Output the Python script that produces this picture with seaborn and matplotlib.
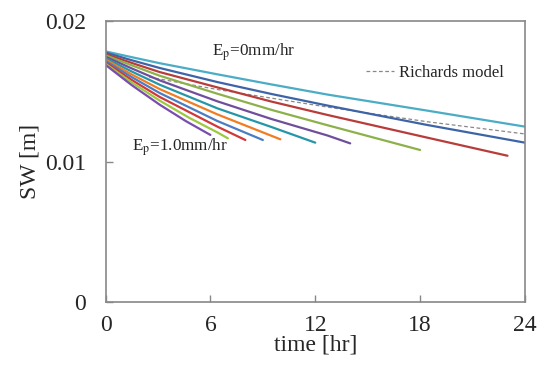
import pandas as pd
import seaborn as sns
import matplotlib.pyplot as plt

# Ep = 0.0 ... 1.0 mm/hr
ep_labels = ['0.0', '0.1', '0.2', '0.3', '0.4', '0.5', '0.6', '0.7', '0.8', '0.9', '1.0']
times = [
    [0, 1.5, 3.1, 6.4, 9.5, 12.7, 18.4, 24],
    [0, 1.5, 3.1, 6.4, 9.5, 12.7, 18.4, 24],
    [0, 1.5, 3.1, 6.4, 9.5, 12.7, 18.4, 23],
    [0, 1.5, 3.1, 6.4, 9.5, 12.7, 18],
    [0, 1.5, 3.1, 6.4, 9.5, 12.7, 14],
    [0, 1.5, 3.1, 6.4, 9.5, 12],
    [0, 1.5, 3.1, 6.4, 10],
    [0, 1.5, 3.1, 6.4, 9],
    [0, 1.5, 3.1, 6.4, 8],
    [0, 1.5, 3.1, 4.8, 6.4, 7],
    [0, 1.5, 3.1, 4.6, 6],
]
sw = [
    [0.01783, 0.01742, 0.01699, 0.0162, 0.01548, 0.01476, 0.01362, 0.01248],
    [0.01775, 0.01720, 0.01665, 0.01565, 0.0148, 0.01398, 0.0126, 0.01134],
    [0.01765, 0.01701, 0.01636, 0.01527, 0.01426, 0.01331, 0.0117, 0.01041],
    [0.01755, 0.01684, 0.0161, 0.01482, 0.01367, 0.01258, 0.01082],
    [0.01745, 0.01662, 0.01577, 0.01428, 0.01302, 0.01185, 0.01129],
    [0.01735, 0.01640, 0.01546, 0.01378, 0.01245, 0.01134],
    [0.01725, 0.01619, 0.01515, 0.01335, 0.01158],
    [0.01715, 0.01600, 0.01487, 0.01288, 0.01153],
    [0.01705, 0.01580, 0.01459, 0.01248, 0.01153],
    [0.01695, 0.01562, 0.01433, 0.01310, 0.01207, 0.01165],
    [0.01687, 0.01543, 0.01404, 0.01287, 0.01189],
]
richards_t = [2.5, 6.4, 12.7, 18.4, 24]
richards_sw = [0.0160, 0.01512, 0.01387, 0.01283, 0.01196]

colors = ['#4BACC6', '#3E64A8', '#B83C3A', '#8DB14A', '#6F4F9C', '#2596A8',
          '#F07D22', '#4A7DC4', '#D0383A', '#9CC842', '#7A4CB0']

rows = []
for lab, ts, vs in zip(ep_labels, times, sw):
    for t, v in zip(ts, vs):
        rows.append({'t': t, 'SW': v, 'Ep': lab})
df = pd.DataFrame(rows)
rich = pd.DataFrame({'t': richards_t, 'SW': richards_sw})

sns.set_style('ticks')
plt.rcParams['font.family'] = ['Liberation Serif', 'DejaVu Serif']
plt.rcParams['mathtext.fontset'] = 'stix'

fig = plt.figure(figsize=(5.44, 3.73), dpi=100)
ax = fig.add_axes([0.194, 0.19, 0.771, 0.754])

sns.lineplot(data=rich, x='t', y='SW', ax=ax, color='#888888', lw=0.9,
             linestyle=(0, (3, 2)), label='Richards model', zorder=1)
sns.lineplot(data=df, x='t', y='SW', hue='Ep', palette=colors, ax=ax,
             lw=1.6, legend=False, zorder=2)

ax.set_xlim(0, 24)
ax.set_ylim(0, 0.02)
ax.set_xticks([0, 6, 12, 18, 24])
ax.set_yticks([0, 0.01, 0.02])
ax.set_yticklabels(['0', '0.01', '0.02'])
ax.tick_params(direction='in', labelsize=17, color='#888888', length=5, width=1)
ax.tick_params(axis='x', pad=9)
ax.tick_params(axis='y', pad=14)
for s in ax.spines.values():
    s.set_color('#888888')
    s.set_linewidth(1.2)

ax.set_xlabel('time [hr]', fontsize=17, labelpad=-1)
ax.set_ylabel('SW [m]', fontsize=17, labelpad=3)

ax.text(6.1, 0.0178, r'E$_\mathrm{p}$=0mm/hr', fontsize=12.3, va='center')
ax.text(1.5, 0.0110, r'E$_\mathrm{p}$=1.0mm/hr', fontsize=12.3, va='center')

ax.legend(loc='center left', bbox_to_anchor=(0.585, 0.815), frameon=False,
          fontsize=12, handlelength=1.7, handletextpad=0.3)

fig.savefig('out.png', dpi=100)
